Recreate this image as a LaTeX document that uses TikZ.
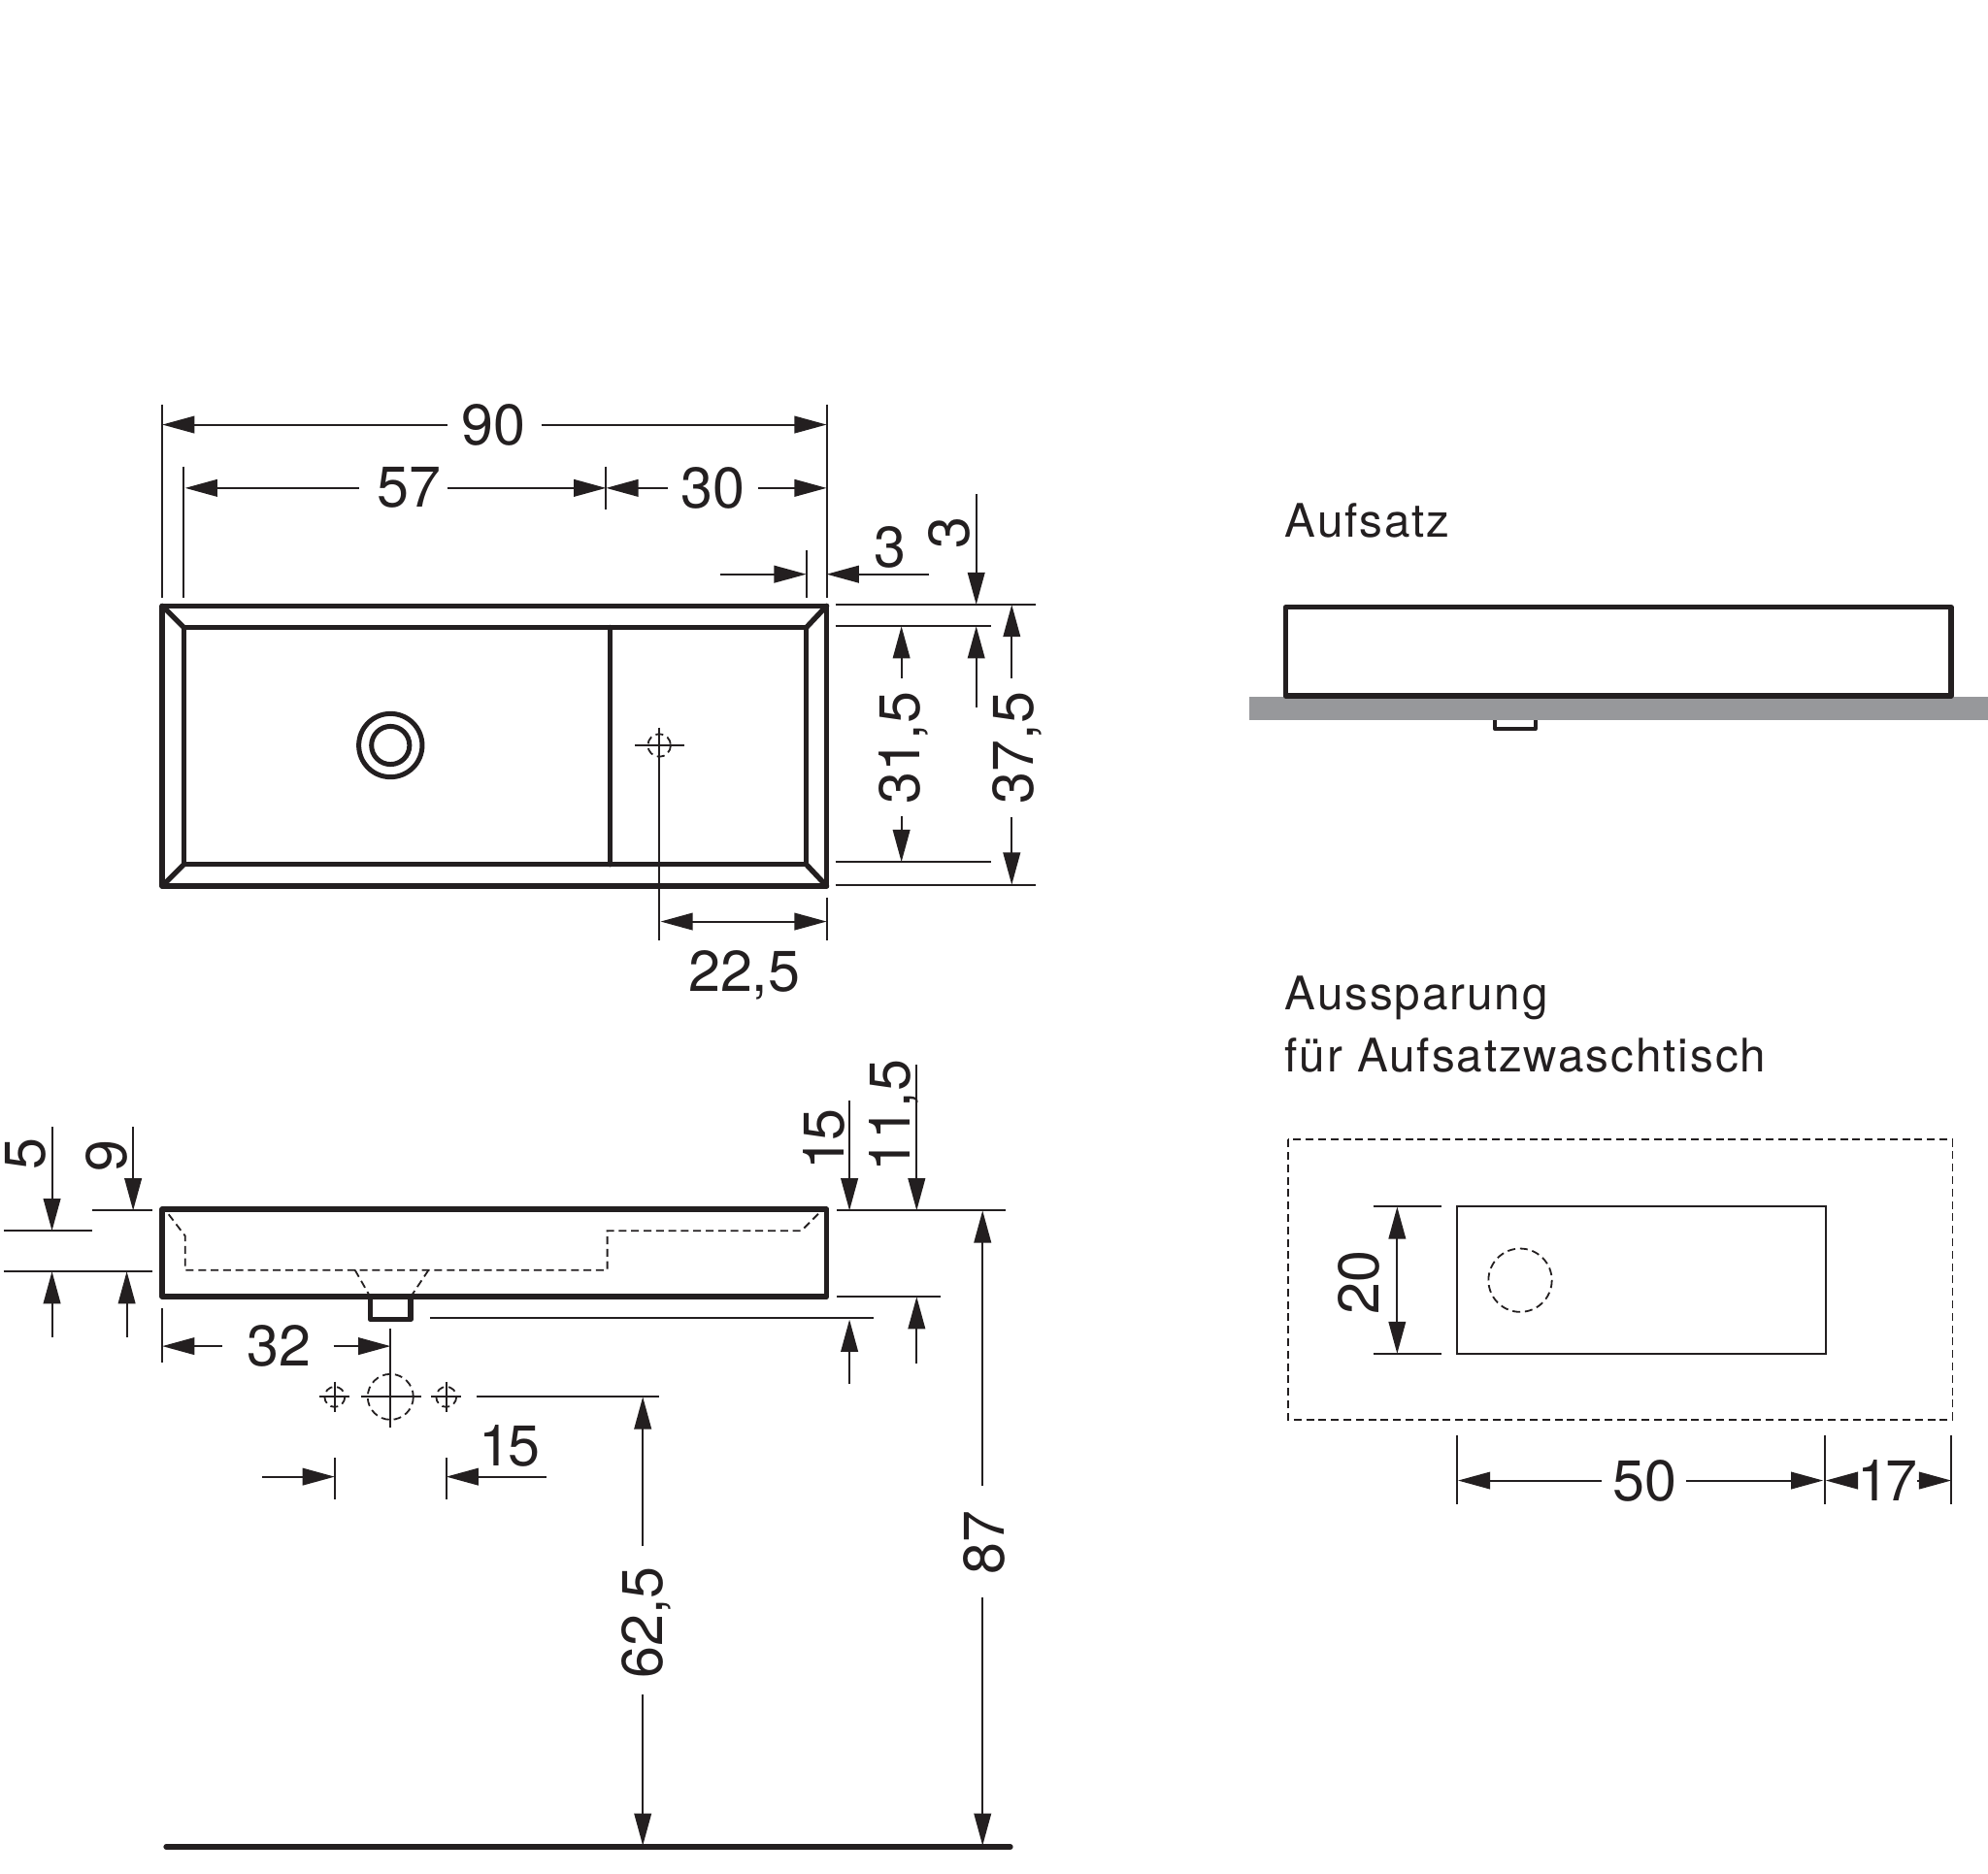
\documentclass[tikz,border=0pt]{standalone}
\usepackage{fontspec}
\setmainfont{TeX Gyre Heros}
\newfontfamily\captionfont[LetterSpace=4]{TeX Gyre Heros}
\usetikzlibrary{arrows.meta,positioning}
\definecolor{inkblack}{HTML}{231F20}
\definecolor{floorgrey}{HTML}{97989B}
\tikzset{
      thickline/.style = {inkblack, line width=1.35pt, line join=round, line cap=round},
      thinline/.style  = {inkblack, line width=0.5pt},
      hidden/.style    = {inkblack, line width=0.45pt, dash pattern=on 2pt off 1.2pt},
      dimarrow/.style  = {inkblack, line width=0.5pt, -{Triangle[length=8.3pt,width=4.4pt]}},
      dimtext/.style   = {inkblack, inner sep=0pt, font=\fontsize{14.8}{16}\selectfont},
      dimtextv/.style  = {dimtext, rotate=90},
      caption/.style   = {inkblack, inner sep=0pt, anchor=base west, font=\fontsize{11.9}{13}\captionfont},
    }

\begin{document}
\begin{tikzpicture}[x=0.32653pt, y=-0.32653pt]
    \useasboundingbox (0,0) rectangle (1568,1478.4);

    % top view
    \draw[thickline] (128,478) rectangle (652,699);
    \draw[thickline] (145,495) rectangle (636,682);
    \draw[thickline] (481,495) -- (481,682);
    \draw[thickline] (128,478) -- (145,495);
    \draw[thickline] (652,478) -- (636,495);
    \draw[thickline] (128,699) -- (145,682);
    \draw[thickline] (652,699) -- (636,682);
    \draw[inkblack, line width=1.25pt] (308,588) circle (25);
    \draw[inkblack, line width=1.25pt] (308,588) circle (15);
    \draw[hidden] (520,588) circle (9);
    \draw[thinline] (501,588) -- (540,588);
    \draw[thinline] (520,574) -- (520,742);

    \node[dimtext] (w90) at (389,335) {90};
    \node[dimtext] (w57) at (323,385) {57};
    \node[dimtext] (w30) at (562,385) {30};
    \node[dimtext] (w3) at (702,432) {3};
    \node[dimtextv] (h3) at (749,420) {3};
    \node[dimtextv] (h31) at (713,590) {31,5};
    \node[dimtextv] (h37) at (802,590) {37,5};
    \node[dimtext] (w22) at (587,769) {22,5};

    \draw[thinline] (128,319) -- (128,472);
    \draw[thinline] (652,319) -- (652,472);
    \draw[thinline] (145,368) -- (145,472);
    \draw[thinline] (478,368) -- (478,402);
    \draw[thinline] (636,434) -- (636,472);
    \draw[thinline] (659,477) -- (817,477);
    \draw[thinline] (659,494) -- (782,494);
    \draw[thinline] (659,680) -- (782,680);
    \draw[thinline] (659,698) -- (817,698);
    \draw[thinline] (652,708) -- (652,742);

    \draw[dimarrow] (353,335) -- (128,335);
    \draw[dimarrow] (427,335) -- (652,335);
    \draw[dimarrow] (283,385) -- (146,385);
    \draw[dimarrow] (353,385) -- (478,385);
    \draw[dimarrow] (527,385) -- (478,385);
    \draw[dimarrow] (598,385) -- (652,385);
    \draw[dimarrow] (568,453) -- (636,453);
    \draw[dimarrow] (733,453) -- (652,453);
    \draw[dimarrow] (770,390) -- (770,477);
    \draw[dimarrow] (770,558) -- (770,494);
    \draw[dimarrow] (711,535) -- (711,494);
    \draw[dimarrow] (711,644) -- (711,680);
    \draw[dimarrow] (798,535) -- (798,477);
    \draw[dimarrow] (798,645) -- (798,698);
    \draw[dimarrow] (587,727) -- (521,727);
    \draw[dimarrow] (587,727) -- (652,727);

    % front view
    \draw[thickline] (128,954) rectangle (652,1023);
    \draw[thickline] (292,1023) -- (292,1041) -- (324,1041) -- (324,1023);
    \draw[hidden] (133,958) -- (146,975) -- (146,1002) -- (479,1002) -- (479,971) -- (632,971) -- (648,955);
    \draw[hidden] (280,1002) -- (292,1023);
    \draw[hidden] (338,1002) -- (324,1023);

    \node[dimtextv] (d5) at (20,910) {5};
    \node[dimtextv] (d9) at (84,912) {9};
    \node[dimtextv] (d15) at (650,899) {1\kern-0.8pt 5};
    \node[dimtextv] (d11) at (705,880) {11,5};
    \node[dimtext] (d32) at (220,1062) {32};
    \node[dimtext] (d15b) at (402,1141) {1\kern-0.8pt 5};
    \node[dimtextv] (d62) at (510,1280) {62,5};
    \node[dimtextv] (d87) at (776,1217) {87};

    \draw[thinline] (3,971) -- (73,971);
    \draw[thinline] (3,1003) -- (120,1003);
    \draw[thinline] (73,955) -- (120,955);
    \draw[thinline] (660,955) -- (793,955);
    \draw[thinline] (660,1023) -- (742,1023);
    \draw[thinline] (339,1040) -- (689,1040);
    \draw[thinline] (376,1102) -- (520,1102);
    \draw[thinline] (128,1032) -- (128,1075);
    \draw[thinline] (308,1048) -- (308,1098);
    \draw[thinline] (264,1150) -- (264,1183);
    \draw[thinline] (352,1150) -- (352,1183);

    \draw[thinline] (252,1102) -- (276,1102);
    \draw[thinline] (264,1090) -- (264,1114);
    \draw[hidden] (264,1102) circle (8);
    \draw[thinline] (285,1102) -- (332,1102);
    \draw[thinline] (308,1082) -- (308,1126);
    \draw[hidden] (308,1102) circle (18);
    \draw[thinline] (340,1102) -- (364,1102);
    \draw[thinline] (352,1090) -- (352,1114);
    \draw[hidden] (352,1102) circle (8);

    \draw[dimarrow] (41,889) -- (41,971);
    \draw[dimarrow] (41,1055) -- (41,1003);
    \draw[dimarrow] (105,889) -- (105,955);
    \draw[dimarrow] (100,1055) -- (100,1003);
    \draw[dimarrow] (175,1062) -- (128,1062);
    \draw[dimarrow] (263,1062) -- (308,1062);
    \draw[dimarrow] (207,1165) -- (264,1165);
    \draw[dimarrow] (431,1165) -- (352,1165);
    \draw[dimarrow] (507,1220) -- (507,1102);
    \draw[dimarrow] (507,1337) -- (507,1456);
    \draw[dimarrow] (775,1172) -- (775,955);
    \draw[dimarrow] (775,1260) -- (775,1456);
    \draw[dimarrow] (670,868) -- (670,955);
    \draw[dimarrow] (670,1092) -- (670,1041);
    \draw[dimarrow] (723,840) -- (723,955);
    \draw[dimarrow] (723,1076) -- (723,1023);
    \draw[thickline] (131,1457) -- (797,1457);

    % right side
    \node[caption] (aufsatz) at (1013,424) {Aufsatz};
    \fill[floorgrey] (985,550) rectangle (1568,568);
    \draw[thickline] (1014,479) rectangle (1539,549);
    \draw[inkblack, line width=1pt, line join=round] (1179,568) -- (1179,575) -- (1211,575) -- (1211,568);

    \node[caption] (aussparung) at (1013,797) {Aussparung};
    \node[caption] (fuer) at (1013,846) {für Aufsatzwaschtisch};
    \draw[hidden] (1016,899) rectangle (1540,1120);
    \draw[thinline] (1149,952) rectangle (1440,1068);
    \draw[hidden] (1199,1010) circle (25);

    \node[dimtextv] (a20) at (1072,1012) {20};
    \node[dimtext] (a50) at (1297,1168) {50};
    \node[dimtext] (a17) at (1489,1168) {1\kern-1pt 7};
    \draw[thinline] (1083,952) -- (1137,952);
    \draw[thinline] (1083,1068) -- (1137,1068);
    \draw[thinline] (1149,1132) -- (1149,1187);
    \draw[thinline] (1439,1132) -- (1439,1187);
    \draw[thinline] (1539,1132) -- (1539,1187);
    \draw[dimarrow] (1102,1010) -- (1102,952);
    \draw[dimarrow] (1102,1010) -- (1102,1068);
    \draw[dimarrow] (1263,1168) -- (1150,1168);
    \draw[dimarrow] (1330,1168) -- (1438,1168);
    \draw[dimarrow] (1465,1168) -- (1440,1168);
    \draw[dimarrow] (1512,1168) -- (1539,1168);
\end{tikzpicture}
\end{document}
